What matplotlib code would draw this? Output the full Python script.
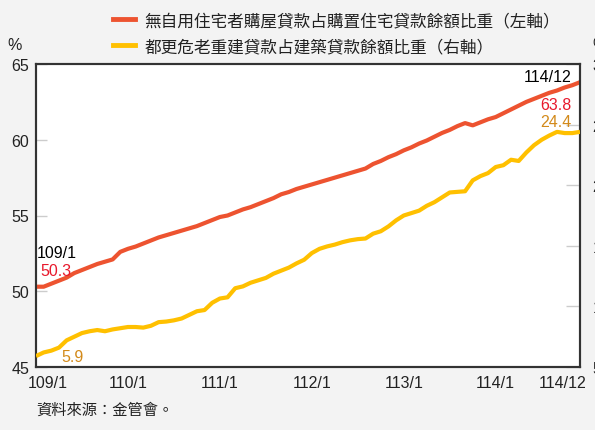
import matplotlib
matplotlib.use("Agg")
import matplotlib.pyplot as plt
import matplotlib.transforms as mtransforms
from matplotlib.lines import Line2D

plt.rcParams['font.family'] = ['Liberation Sans', 'Noto Sans CJK TC', 'DejaVu Sans']

# --- data (民國年/月, 109/1 ~ 114/12) ---
months = list(range(72))
tick_pos = [0, 12, 24, 36, 48, 60, 71]
tick_labels = ["109/1", "110/1", "111/1", "112/1", "113/1", "114/1", "114/12"]

# 無自用住宅者購屋貸款占購置住宅貸款餘額比重 (左軸, %)
share_no_home = [50.3, 50.3, 50.5, 50.7, 50.9, 51.2, 51.4, 51.6, 51.8, 51.95, 52.1, 52.6,
                 52.8, 52.95, 53.15, 53.35, 53.55, 53.7, 53.85, 54.0, 54.15, 54.3, 54.5, 54.7,
                 54.9, 55.0, 55.2, 55.4, 55.55, 55.75, 55.95, 56.15, 56.4, 56.55, 56.75, 56.9,
                 57.05, 57.2, 57.35, 57.5, 57.65, 57.8, 57.95, 58.1, 58.4, 58.6, 58.85, 59.05,
                 59.3, 59.5, 59.75, 59.95, 60.2, 60.45, 60.65, 60.9, 61.1, 60.95, 61.15, 61.35,
                 61.5, 61.75, 62.0, 62.25, 62.5, 62.7, 62.9, 63.1, 63.25, 63.45, 63.6, 63.8]

# 都更危老重建貸款占建築貸款餘額比重 (右軸, %)
share_urban = [5.9, 6.2, 6.35, 6.6, 7.2, 7.5, 7.8, 7.95, 8.05, 7.95, 8.1, 8.2,
               8.3, 8.3, 8.25, 8.4, 8.7, 8.75, 8.85, 9.0, 9.3, 9.6, 9.7, 10.3,
               10.65, 10.75, 11.5, 11.65, 11.95, 12.15, 12.35, 12.7, 12.95, 13.2, 13.55, 13.85,
               14.4, 14.75, 14.95, 15.1, 15.3, 15.45, 15.55, 15.6, 16.0, 16.2, 16.6, 17.1,
               17.5, 17.7, 17.9, 18.3, 18.6, 19.0, 19.4, 19.45, 19.5, 20.4, 20.75, 21.0,
               21.5, 21.65, 22.1, 22.0, 22.7, 23.3, 23.75, 24.1, 24.4, 24.3, 24.3, 24.4]

red = "#ED5330"
yellow = "#FFC000"
red_txt = "#E8192C"
gold_txt = "#D38A1A"
spine_c = "#333333"
tick_c = "#cccccc"

fig = plt.figure(figsize=(5.95, 4.31), dpi=100, facecolor="#f3f3f3")
ax = fig.add_axes([36/595, 1 - 368/431, 544/595, 303/431])
ax.set_facecolor("white")
ax2 = ax.twinx()

ax.plot(months, share_no_home, color=red, lw=3, solid_capstyle="butt", zorder=3)
ax2.plot(months, share_urban, color=yellow, lw=3, solid_capstyle="butt", zorder=3)

ax.set_xlim(0, 71)
ax.set_ylim(45, 65)
ax2.set_ylim(5, 30)
ax.set_yticks([45, 50, 55, 60, 65])
ax2.set_yticks([5, 10, 15, 20, 25, 30])

ax.set_xticks(tick_pos)
ax.set_xticklabels(tick_labels)
ax.set_xticks([12, 24, 36, 48, 60], minor=True)
ax.tick_params(axis="x", which="major", length=0, pad=6, labelsize=11.5, labelcolor="#222222")
ax.tick_params(axis="x", which="minor", direction="in", length=7, width=1, color=tick_c)
ax.tick_params(axis="y", direction="in", length=8, width=1, color=tick_c, pad=5,
               labelsize=11.5, labelcolor="#222222")
ax2.tick_params(axis="y", direction="in", length=10, width=1, color=tick_c, pad=9,
                labelsize=11.5, labelcolor="#222222")

# nudge the end labels inward like the original
lbls = ax.get_xticklabels()
lbls[0].set_transform(lbls[0].get_transform() + mtransforms.ScaledTranslation(12/100, 0, fig.dpi_scale_trans))
lbls[-1].set_transform(lbls[-1].get_transform() + mtransforms.ScaledTranslation(-17/100, 0, fig.dpi_scale_trans))

for a in (ax, ax2):
    for s in a.spines.values():
        s.set_color(spine_c)
        s.set_linewidth(1.5)

# annotations at both ends
ax.text(0.1, 52.55, "109/1", fontsize=11.5, color="black", ha="left", va="center")
ax.text(0.6, 51.4, "50.3", fontsize=11.5, color=red_txt, ha="left", va="center")
ax2.text(3.3, 5.85, "5.9", fontsize=11.5, color=gold_txt, ha="left", va="center")
ax.text(69.9, 64.2, "114/12", fontsize=11.5, color="black", ha="right", va="center")
ax.text(69.9, 62.35, "63.8", fontsize=11.5, color=red_txt, ha="right", va="center")
ax2.text(69.9, 25.25, "24.4", fontsize=11.5, color=gold_txt, ha="right", va="center")

fig.text(15/595, 1 - 46/431, "%", fontsize=11.5, color="#222222", ha="center", va="center")
fig.text(592/595, 1 - 46/431, "%", fontsize=11.5, color="#222222", ha="left", va="center")

handles = [Line2D([], [], color=red, lw=3.5), Line2D([], [], color=yellow, lw=3.5)]
fig.legend(handles,
           ["無自用住宅者購屋貸款占購置住宅貸款餘額比重（左軸）",
            "都更危老重建貸款占建築貸款餘額比重（右軸）"],
           loc="upper left", bbox_to_anchor=(98/595, 1 + 2/431), frameon=False,
           fontsize=12, handlelength=1.32, handletextpad=0.58, labelspacing=0.62,
           labelcolor="#222222")

fig.text(36/595, 1 - 411/431, "資料來源：金管會。", fontsize=11, color="#222222",
         ha="left", va="center")

fig.savefig("out.png", dpi=100, facecolor=fig.get_facecolor())
